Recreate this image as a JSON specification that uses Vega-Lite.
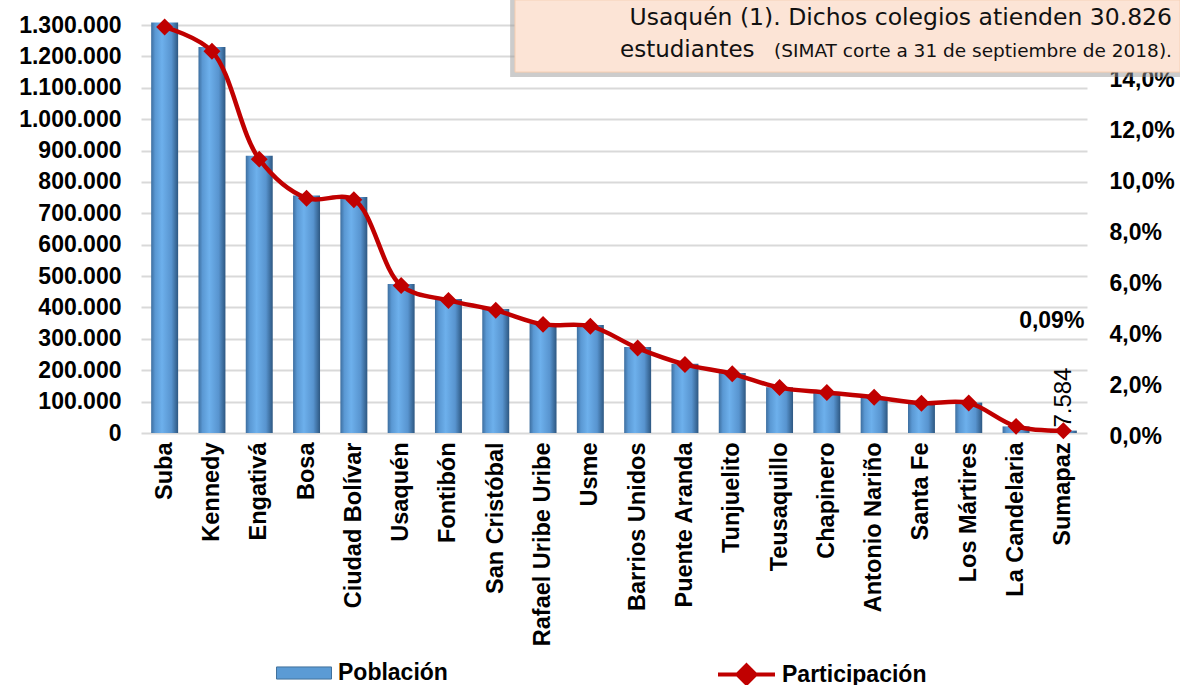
{
  "$schema": "https://vega.github.io/schema/vega-lite/v6.json",
  "width": 946,
  "height": 408,
  "autosize": "none",
  "padding": {"left": 141, "top": 25, "right": 93, "bottom": 252},
  "background": "#FFFFFF",
  "config": {
    "font": "Liberation Sans",
    "view": {"stroke": null},
    "locale": {"number": {"decimal": ",", "thousands": ".", "grouping": [3], "currency": ["", ""]}}
  },
  "data": {
    "values": [
      {"localidad": "Suba", "poblacion": 1308000, "participacion": 0.1592},
      {"localidad": "Kennedy", "poblacion": 1230000, "participacion": 0.1497},
      {"localidad": "Engativá", "poblacion": 883000, "participacion": 0.1074},
      {"localidad": "Bosa", "poblacion": 757000, "participacion": 0.0921},
      {"localidad": "Ciudad Bolívar", "poblacion": 752000, "participacion": 0.0915},
      {"localidad": "Usaquén", "poblacion": 475000, "participacion": 0.0578},
      {"localidad": "Fontibón", "poblacion": 427000, "participacion": 0.0520},
      {"localidad": "San Cristóbal", "poblacion": 395000, "participacion": 0.0481},
      {"localidad": "Rafael Uribe Uribe", "poblacion": 350000, "participacion": 0.0426},
      {"localidad": "Usme", "poblacion": 344000, "participacion": 0.0419},
      {"localidad": "Barrios Unidos", "poblacion": 274000, "participacion": 0.0333},
      {"localidad": "Puente Aranda", "poblacion": 221000, "participacion": 0.0269},
      {"localidad": "Tunjuelito", "poblacion": 191000, "participacion": 0.0232},
      {"localidad": "Teusaquillo", "poblacion": 146000, "participacion": 0.0178},
      {"localidad": "Chapinero", "poblacion": 131000, "participacion": 0.0159},
      {"localidad": "Antonio Nariño", "poblacion": 115000, "participacion": 0.0140},
      {"localidad": "Santa Fe", "poblacion": 96000, "participacion": 0.0117},
      {"localidad": "Los Mártires", "poblacion": 97000, "participacion": 0.0118},
      {"localidad": "La Candelaria", "poblacion": 21000, "participacion": 0.0026},
      {"localidad": "Sumapaz", "poblacion": 7584, "participacion": 0.00092}
    ]
  },
  "encoding": {
    "x": {
      "field": "localidad",
      "type": "nominal",
      "sort": null,
      "scale": {
        "domain": ["Suba", "Kennedy", "Engativá", "Bosa", "Ciudad Bolívar", "Usaquén", "Fontibón", "San Cristóbal", "Rafael Uribe Uribe", "Usme", "Barrios Unidos", "Puente Aranda", "Tunjuelito", "Teusaquillo", "Chapinero", "Antonio Nariño", "Santa Fe", "Los Mártires", "La Candelaria", "Sumapaz"],
        "paddingInner": 0.43,
        "paddingOuter": 0.215
      },
      "axis": {
        "title": null,
        "labelAngle": -90,
        "labelFontSize": 23.5,
        "labelFontWeight": "bold",
        "labelColor": "#000000",
        "labelPadding": 9,
        "ticks": false,
        "domain": false,
        "labelLimit": 300
      }
    }
  },
  "layer": [
    {
      "encoding": {
        "y": {
          "field": "poblacion",
          "type": "quantitative",
          "scale": {"domain": [0, 1300000], "nice": false},
          "axis": {
            "title": null,
            "orient": "left",
            "values": [0, 100000, 200000, 300000, 400000, 500000, 600000, 700000, 800000, 900000, 1000000, 1100000, 1200000, 1300000],
            "format": ",d",
            "labelOverlap": false,
            "labelFontSize": 23,
            "labelFontWeight": "bold",
            "labelColor": "#000000",
            "labelPadding": 20,
            "ticks": false,
            "domain": false,
            "grid": true,
            "gridColor": "#D9D9D9",
            "gridWidth": 2
          }
        }
      },
      "layer": [
        {
          "mark": {
            "type": "bar",
            "fill": {
              "gradient": "linear",
              "x1": 0, "x2": 1, "y1": 0, "y2": 0,
              "stops": [
                {"offset": 0, "color": "#3D6E9F"},
                {"offset": 0.15, "color": "#5A98D3"},
                {"offset": 0.4, "color": "#6DB0EC"},
                {"offset": 0.75, "color": "#5894CF"},
                {"offset": 1, "color": "#2D5781"}
              ]
            }
          }
        },
        {
          "transform": [{"filter": "false"}],
          "mark": {"type": "bar"},
          "encoding": {
            "fill": {
              "datum": "Población",
              "scale": {"range": ["#5B9BD5"]},
              "legend": {
                "title": null,
                "orient": "none",
                "legendX": 135,
                "legendY": 620,
                "symbolType": "M-1,-0.22H1V0.22H-1Z",
                "symbolSize": 3025,
                "symbolStrokeColor": "#41719C",
                "symbolStrokeWidth": 1,
                "labelFontSize": 23,
                "labelFontWeight": "bold",
                "labelColor": "#000000",
                "labelOffset": 6
              }
            }
          }
        },
        {
          "transform": [{"filter": "datum.localidad === 'Sumapaz'"}],
          "mark": {"type": "text", "angle": 270, "align": "left", "baseline": "middle", "dx": 3, "dy": 1, "fontSize": 24, "color": "#000000"},
          "encoding": {
            "text": {"field": "poblacion", "type": "quantitative", "format": ",d"}
          }
        }
      ]
    },
    {
      "encoding": {
        "y": {
          "field": "participacion",
          "type": "quantitative",
          "scale": {"domain": [0, 0.16], "nice": false},
          "axis": {
            "title": null,
            "orient": "right",
            "values": [0, 0.02, 0.04, 0.06, 0.08, 0.1, 0.12, 0.14],
            "format": ".1%",
            "labelOverlap": false,
            "labelFontSize": 23,
            "labelFontWeight": "bold",
            "labelColor": "#000000",
            "labelPadding": 22,
            "labelOffset": 3,
            "ticks": false,
            "domain": false,
            "grid": false
          }
        }
      },
      "layer": [
        {
          "mark": {
            "type": "line",
            "interpolate": "catmull-rom",
            "strokeWidth": 4.5,
            "point": {"shape": "diamond", "size": 200, "filled": true, "fill": "#C00000", "color": "#C00000"}
          },
          "encoding": {
            "stroke": {
              "datum": "Participación",
              "scale": {"range": ["#C00000"]},
              "legend": {
                "title": null,
                "orient": "none",
                "legendX": 575,
                "legendY": 619,
                "symbolType": "M-1,0H1M0,-0.32L0.32,0L0,0.32L-0.32,0Z",
                "symbolSize": 3249,
                "symbolStrokeWidth": 4,
                "symbolFillColor": "#C00000",
                "labelFontSize": 23,
                "labelFontWeight": "bold",
                "labelColor": "#000000",
                "labelOffset": 5
              }
            }
          }
        },
        {
          "transform": [{"filter": "datum.localidad === 'Sumapaz'"}],
          "mark": {"type": "text", "align": "right", "baseline": "middle", "dx": 21, "dy": -110, "fontSize": 23, "fontWeight": "bold", "color": "#000000"},
          "encoding": {
            "text": {"field": "participacion", "type": "quantitative", "format": ".2%"}
          }
        }
      ]
    },
    {
      "data": {"values": [{"linea1": "Usaquén (1). Dichos colegios atienden 30.826", "linea2a": "estudiantes", "linea2b": "(SIMAT corte a 31 de septiembre de 2018)."}]},
      "layer": [
        {
          "mark": {"type": "rect", "fill": "#9A9A9A", "opacity": 0.5},
          "encoding": {
            "x": {"datum": "Rafael Uribe Uribe", "bandPosition": -0.72},
            "x2": {"datum": "Sumapaz", "bandPosition": 4.83},
            "y": {"datum": 1380000, "scale": {"domain": [0, 1300000], "nice": false}, "axis": null},
            "y2": {"datum": 1134000}
          }
        },
        {
          "mark": {"type": "rect", "fill": "#FCE4D6", "stroke": "#F6CDB0", "strokeWidth": 1},
          "encoding": {
            "x": {"datum": "Rafael Uribe Uribe", "bandPosition": -0.54},
            "x2": {"datum": "Sumapaz", "bandPosition": 4.83},
            "y": {"datum": 1380000, "axis": null},
            "y2": {"datum": 1150000}
          }
        },
        {
          "mark": {"type": "text", "align": "right", "baseline": "middle", "font": "DejaVu Sans", "fontSize": 23.5, "color": "#111111"},
          "encoding": {
            "x": {"datum": "Sumapaz", "bandPosition": 4.53},
            "y": {"datum": 1322000, "axis": null},
            "text": {"field": "linea1"}
          }
        },
        {
          "mark": {"type": "text", "align": "left", "baseline": "middle", "font": "DejaVu Sans", "fontSize": 23, "color": "#111111"},
          "encoding": {
            "x": {"datum": "Usme", "bandPosition": 1.6},
            "y": {"datum": 1220000, "axis": null},
            "text": {"field": "linea2a"}
          }
        },
        {
          "mark": {"type": "text", "align": "right", "baseline": "middle", "font": "DejaVu Sans", "fontSize": 18.5, "color": "#111111"},
          "encoding": {
            "x": {"datum": "Sumapaz", "bandPosition": 4.53},
            "y": {"datum": 1218000, "axis": null},
            "text": {"field": "linea2b"}
          }
        }
      ]
    }
  ],
  "resolve": {"scale": {"y": "independent"}}
}
